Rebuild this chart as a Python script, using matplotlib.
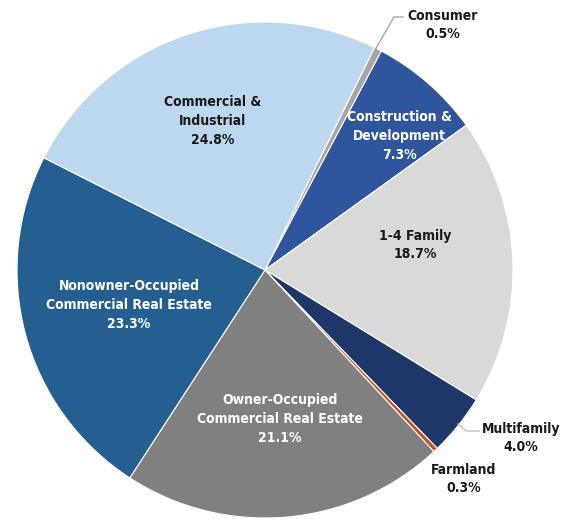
import matplotlib
matplotlib.use("Agg")
import matplotlib.pyplot as plt

# Data (clockwise from top)
categories = ["Consumer", "Construction &\nDevelopment", "1-4 Family", "Multifamily",
              "Farmland", "Owner-Occupied\nCommercial Real Estate",
              "Nonowner-Occupied\nCommercial Real Estate", "Commercial &\nIndustrial"]
values = [0.5, 7.3, 18.7, 4.0, 0.3, 21.1, 23.3, 24.8]
colors = ["#A6A6A6", "#2F559C", "#D9D9D9", "#1F3768", "#C8501E", "#808080", "#255E91", "#BDD7EE"]
text_colors = ["#1a1a1a", "white", "#1a1a1a", "#1a1a1a", "#1a1a1a", "white", "white", "#1a1a1a"]

W, H = 572, 521
def P(x, y):
    return (x, H - y)

# label block centres in pixel coordinates
label_pos = [(443, 25), (399, 136), (415, 245), (521, 438), (464, 479),
             (280, 419), (129, 305), (213, 121)]

fig = plt.figure(figsize=(W / 100, H / 100), dpi=100)
ax = fig.add_axes([0, 0, 1, 1])
ax.pie(values, colors=colors, startangle=63.8, counterclock=False,
       center=P(265, 270), radius=248,
       wedgeprops=dict(edgecolor="white", linewidth=0.8))
ax.set_xlim(0, W)
ax.set_ylim(0, H)
ax.set_aspect("equal")
ax.axis("off")

font = dict(family=["DejaVu Sans"], fontstretch="condensed", fontweight="bold", fontsize=10)
for cat, v, (x, y), tc in zip(categories, values, label_pos, text_colors):
    ax.text(*P(x, y), f"{cat}\n{v:.1f}%", ha="center", va="center", color=tc,
            linespacing=1.45, **font)

# leader lines
lx, ly = zip(P(403, 17), P(394, 17), P(375, 50))
ax.plot(lx, ly, color="#A6A6A6", lw=1)
lx, ly = zip(P(458, 424), P(466, 431), P(479, 431))
ax.plot(lx, ly, color="#BFBFBF", lw=1)

fig.savefig("out.png", dpi=100)
